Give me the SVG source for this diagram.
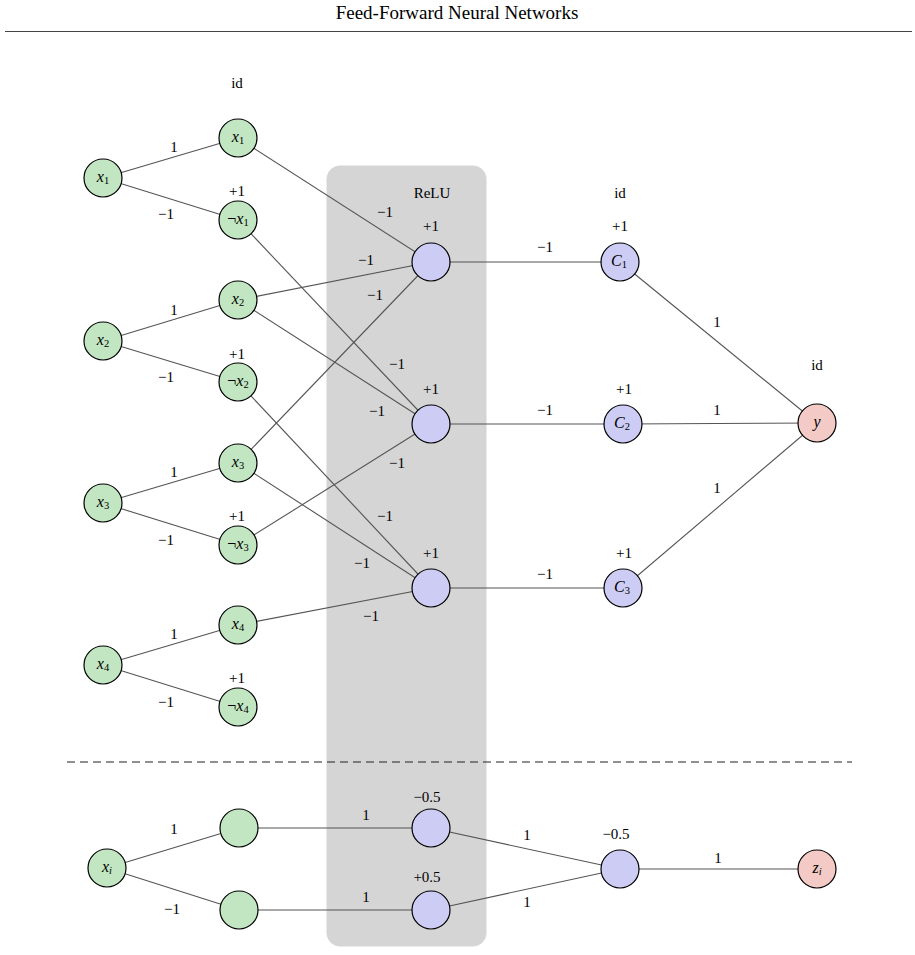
<svg xmlns="http://www.w3.org/2000/svg" width="915" height="955" viewBox="0 0 915 955">
<style>
text{font-family:"Liberation Serif","DejaVu Serif",serif;fill:#000;}
.t{font-size:19px;text-anchor:middle;}
.l{font-size:15px;text-anchor:middle;}
.n{font-size:16px;text-anchor:middle;}
.i{font-style:italic;}
.s{font-size:10.5px;}
.e line{stroke:#555;stroke-width:1.1;}
circle{stroke:#000;stroke-width:1.2;}
.g{fill:#c1e6c1;}
.b{fill:#ccccf4;}
.r{fill:#f3cac5;}
</style>
<rect x="0" y="0" width="915" height="955" fill="#fff"/>
<text class="t" x="457" y="19">Feed-Forward Neural Networks</text>
<line x1="5" y1="31.5" x2="912" y2="31.5" stroke="#444" stroke-width="1.2"/>
<rect x="326.5" y="165.5" width="160" height="781" rx="14" fill="#d5d5d5"/>
<line x1="67" y1="762" x2="852" y2="762" stroke="#222" stroke-width="1.1" stroke-dasharray="8,5"/>
<g id="connectors" class="e">
<line x1="103" y1="178" x2="238" y2="138"/>
<line x1="103" y1="178" x2="238" y2="220"/>
<line x1="103" y1="341" x2="238" y2="300"/>
<line x1="103" y1="341" x2="238" y2="382"/>
<line x1="103" y1="503" x2="238" y2="463"/>
<line x1="103" y1="503" x2="238" y2="545"/>
<line x1="103" y1="665" x2="238" y2="625"/>
<line x1="103" y1="665" x2="238" y2="707"/>
<line x1="238" y1="138" x2="431" y2="262"/>
<line x1="238" y1="300" x2="431" y2="262"/>
<line x1="238" y1="463" x2="431" y2="262"/>
<line x1="238" y1="220" x2="431" y2="424"/>
<line x1="238" y1="300" x2="431" y2="424"/>
<line x1="238" y1="545" x2="431" y2="424"/>
<line x1="238" y1="382" x2="431" y2="588"/>
<line x1="238" y1="463" x2="431" y2="588"/>
<line x1="238" y1="625" x2="431" y2="588"/>
<line x1="431" y1="262" x2="620" y2="262"/>
<line x1="431" y1="424" x2="623" y2="424"/>
<line x1="431" y1="588" x2="623" y2="588"/>
<line x1="620" y1="262" x2="817" y2="423"/>
<line x1="623" y1="424" x2="817" y2="423"/>
<line x1="623" y1="588" x2="817" y2="423"/>
<line x1="107" y1="868" x2="239" y2="828"/>
<line x1="107" y1="868" x2="239" y2="910"/>
<line x1="239" y1="828" x2="431" y2="828"/>
<line x1="239" y1="910" x2="431" y2="910"/>
<line x1="431" y1="828" x2="620" y2="869"/>
<line x1="431" y1="910" x2="620" y2="869"/>
<line x1="620" y1="869" x2="817" y2="869"/>
</g>
<g id="edge-labels">
<text class="l" x="174" y="152">1</text>
<text class="l" x="166" y="219">−1</text>
<text class="l" x="174" y="315">1</text>
<text class="l" x="166" y="382">−1</text>
<text class="l" x="174" y="477">1</text>
<text class="l" x="166" y="545">−1</text>
<text class="l" x="174" y="639">1</text>
<text class="l" x="166" y="707">−1</text>
<text class="l" x="385" y="217">−1</text>
<text class="l" x="366" y="265">−1</text>
<text class="l" x="375" y="300">−1</text>
<text class="l" x="397" y="369">−1</text>
<text class="l" x="377" y="416">−1</text>
<text class="l" x="397" y="468">−1</text>
<text class="l" x="385" y="521">−1</text>
<text class="l" x="362" y="568">−1</text>
<text class="l" x="371" y="621">−1</text>
<text class="l" x="545" y="252">−1</text>
<text class="l" x="545" y="415">−1</text>
<text class="l" x="545" y="579">−1</text>
<text class="l" x="717" y="327">1</text>
<text class="l" x="717" y="415">1</text>
<text class="l" x="717" y="493">1</text>
<text class="l" x="174" y="834">1</text>
<text class="l" x="172" y="914">−1</text>
<text class="l" x="366" y="820">1</text>
<text class="l" x="366" y="902">1</text>
<text class="l" x="527" y="840">1</text>
<text class="l" x="527" y="907">1</text>
<text class="l" x="718" y="863">1</text>
</g>
<g id="layer-labels">
<text class="l" x="237" y="88">id</text>
<text class="l" x="432" y="198">ReLU</text>
<text class="l" x="620" y="198">id</text>
<text class="l" x="817" y="370">id</text>
<text class="l" x="237" y="196">+1</text>
<text class="l" x="237" y="359">+1</text>
<text class="l" x="237" y="521">+1</text>
<text class="l" x="237" y="683">+1</text>
<text class="l" x="431" y="231">+1</text>
<text class="l" x="431" y="394">+1</text>
<text class="l" x="431" y="558">+1</text>
<text class="l" x="620" y="231">+1</text>
<text class="l" x="624" y="394">+1</text>
<text class="l" x="624" y="558">+1</text>
<text class="l" x="427" y="802">−0.5</text>
<text class="l" x="427" y="882">+0.5</text>
<text class="l" x="616" y="839">−0.5</text>
</g>
<g id="in1"><circle class="g" cx="103" cy="178" r="19"/><text class="n" x="103" y="182"><tspan class="i">x</tspan><tspan class="s" dy="2">1</tspan></text></g>
<g id="in2"><circle class="g" cx="103" cy="341" r="19"/><text class="n" x="103" y="345"><tspan class="i">x</tspan><tspan class="s" dy="2">2</tspan></text></g>
<g id="in3"><circle class="g" cx="103" cy="503" r="19"/><text class="n" x="103" y="507"><tspan class="i">x</tspan><tspan class="s" dy="2">3</tspan></text></g>
<g id="in4"><circle class="g" cx="103" cy="665" r="19"/><text class="n" x="103" y="669"><tspan class="i">x</tspan><tspan class="s" dy="2">4</tspan></text></g>
<g id="p1"><circle class="g" cx="238" cy="138" r="19"/><text class="n" x="238" y="142"><tspan class="i">x</tspan><tspan class="s" dy="2">1</tspan></text></g>
<g id="n1"><circle class="g" cx="238" cy="220" r="19"/><text class="n" x="238" y="224">¬<tspan class="i">x</tspan><tspan class="s" dy="2">1</tspan></text></g>
<g id="p2"><circle class="g" cx="238" cy="300" r="19"/><text class="n" x="238" y="304"><tspan class="i">x</tspan><tspan class="s" dy="2">2</tspan></text></g>
<g id="n2"><circle class="g" cx="238" cy="382" r="19"/><text class="n" x="238" y="386">¬<tspan class="i">x</tspan><tspan class="s" dy="2">2</tspan></text></g>
<g id="p3"><circle class="g" cx="238" cy="463" r="19"/><text class="n" x="238" y="467"><tspan class="i">x</tspan><tspan class="s" dy="2">3</tspan></text></g>
<g id="n3"><circle class="g" cx="238" cy="545" r="19"/><text class="n" x="238" y="549">¬<tspan class="i">x</tspan><tspan class="s" dy="2">3</tspan></text></g>
<g id="p4"><circle class="g" cx="238" cy="625" r="19"/><text class="n" x="238" y="629"><tspan class="i">x</tspan><tspan class="s" dy="2">4</tspan></text></g>
<g id="n4"><circle class="g" cx="238" cy="707" r="19"/><text class="n" x="238" y="711">¬<tspan class="i">x</tspan><tspan class="s" dy="2">4</tspan></text></g>
<g id="relu1"><circle class="b" cx="431" cy="262" r="19"/></g>
<g id="relu2"><circle class="b" cx="431" cy="424" r="19"/></g>
<g id="relu3"><circle class="b" cx="431" cy="588" r="19"/></g>
<g id="c1"><circle class="b" cx="620" cy="262" r="19"/><text class="n" x="619" y="266"><tspan class="i">C</tspan><tspan class="s" dy="2">1</tspan></text></g>
<g id="c2"><circle class="b" cx="623" cy="424" r="19"/><text class="n" x="622" y="428"><tspan class="i">C</tspan><tspan class="s" dy="2">2</tspan></text></g>
<g id="c3"><circle class="b" cx="623" cy="588" r="19"/><text class="n" x="622" y="592"><tspan class="i">C</tspan><tspan class="s" dy="2">3</tspan></text></g>
<g id="y"><circle class="r" cx="817" cy="423" r="19"/><text class="n i" x="817" y="427">y</text></g>
<g id="xi"><circle class="g" cx="107" cy="868" r="19"/><text class="n" x="107" y="872"><tspan class="i">x</tspan><tspan class="s i" dy="2">i</tspan></text></g>
<g id="h1"><circle class="g" cx="239" cy="828" r="19"/></g>
<g id="h2"><circle class="g" cx="239" cy="910" r="19"/></g>
<g id="r1"><circle class="b" cx="431" cy="828" r="19"/></g>
<g id="r2"><circle class="b" cx="431" cy="910" r="19"/></g>
<g id="m"><circle class="b" cx="620" cy="869" r="19"/></g>
<g id="zi"><circle class="r" cx="817" cy="869" r="19"/><text class="n" x="817" y="873"><tspan class="i">z</tspan><tspan class="s i" dy="2">i</tspan></text></g>
</svg>
